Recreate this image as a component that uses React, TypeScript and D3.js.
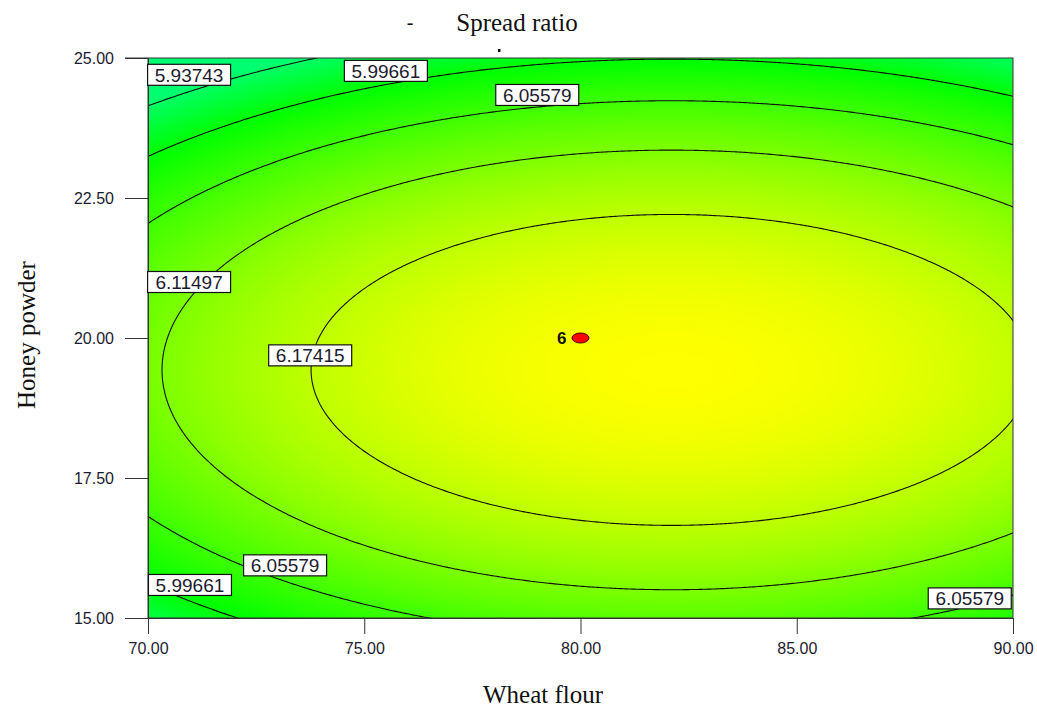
import React, { useEffect, useMemo, useRef } from 'react';
import * as d3 from 'd3';

// axes
const xTicks = [70, 75, 80, 85, 90];
const yTicks = [15, 17.5, 20, 22.5, 25];

// contour levels shown on the plot
const contourLevels = [5.93743, 5.99661, 6.05579, 6.11497, 6.17415];

// fitted response surface: peak, centre [wheat, honey], curvature [wheat, honey]
const surfacePeak = [6.2334];
const surfaceCentre = [82.1, 19.43];
const surfaceCurvature = [0.000854, 0.007687];

// contour labels: [level, wheat flour, honey powder]
const contourLabels: [number, number, number][] = [
  [5.93743, 70.95, 24.7],
  [5.99661, 75.5, 24.77],
  [6.05579, 79.0, 24.34],
  [6.11497, 70.95, 21.0],
  [6.17415, 73.75, 19.69],
  [6.05579, 73.17, 15.94],
  [5.99661, 70.97, 15.59],
  [6.05579, 89.0, 15.35],
];

// design point and its replicate count
const designPoint = [80, 20];
const designCount = ['6'];

const W = 1037;
const H = 709;
const M = { left: 148, right: 1013, top: 58, bottom: 618 };

const surface = (x: number, y: number) =>
  surfacePeak[0] -
  surfaceCurvature[0] * (x - surfaceCentre[0]) ** 2 -
  surfaceCurvature[1] * (y - surfaceCentre[1]) ** 2;

const App = () => {
  const xAxisRef = useRef<SVGGElement>(null);
  const yAxisRef = useRef<SVGGElement>(null);

  const x = d3.scaleLinear().domain([70, 90]).range([M.left, M.right]);
  const y = d3.scaleLinear().domain([15, 25]).range([M.bottom, M.top]);

  // green -> yellow shading
  const red = d3.scaleLinear().domain([6.0, 6.234]).range([0, 255]).clamp(true);
  const blue = d3.scaleLinear().domain([5.93, 6.0]).range([112, 0]).clamp(true);

  const heatmap = useMemo(() => {
    const w = M.right - M.left;
    const h = M.bottom - M.top;
    const canvas = document.createElement('canvas');
    canvas.width = w;
    canvas.height = h;
    const ctx = canvas.getContext('2d');
    if (!ctx) return '';
    const img = ctx.createImageData(w, h);
    for (let j = 0; j < h; j++) {
      const yv = y.invert(M.top + j + 0.5);
      for (let i = 0; i < w; i++) {
        const v = surface(x.invert(M.left + i + 0.5), yv);
        const k = (j * w + i) * 4;
        img.data[k] = red(v);
        img.data[k + 1] = 255;
        img.data[k + 2] = blue(v);
        img.data[k + 3] = 255;
      }
    }
    ctx.putImageData(img, 0, 0);
    return canvas.toDataURL();
  }, []);

  const contourPaths = useMemo(() => {
    // grid extends past the plot so the polygon edges fall outside the clip
    const x0 = 66, x1 = 94, y0 = 12, y1 = 28, step = 0.05;
    const nx = Math.round((x1 - x0) / step) + 1;
    const ny = Math.round((y1 - y0) / step) + 1;
    const values = new Array(nx * ny);
    for (let j = 0; j < ny; j++) {
      for (let i = 0; i < nx; i++) {
        values[j * nx + i] = surface(x0 + i * step, y1 - j * step);
      }
    }
    const contours = d3.contours().size([nx, ny]).thresholds(contourLevels)(values);
    const proj = d3.geoTransform({
      point(gx: number, gy: number) {
        this.stream.point(x(x0 + (gx - 0.5) * step), y(y1 - (gy - 0.5) * step));
      },
    });
    const path = d3.geoPath(proj);
    return contours.map(c => path(c as any) || '');
  }, []);

  useEffect(() => {
    const fmt = d3.format('.2f');
    const xa = d3.select(xAxisRef.current!);
    xa.call(d3.axisBottom(x).tickValues(xTicks).tickFormat(d => fmt(d as number)).tickSize(16).tickSizeOuter(0).tickPadding(9) as any);
    const ya = d3.select(yAxisRef.current!);
    ya.call(d3.axisLeft(y).tickValues(yTicks).tickFormat(d => fmt(d as number)).tickSize(23).tickSizeOuter(0).tickPadding(11) as any);
    [xa, ya].forEach(a => {
      a.selectAll('path.domain').attr('stroke', '#333');
      a.selectAll('.tick line').attr('stroke', '#333');
      a.selectAll('.tick text')
        .attr('fill', '#1c1c30')
        .style('font-family', '"Liberation Sans", Arial, sans-serif')
        .style('font-size', '16px');
    });
  }, []);

  const serif = '"Liberation Serif", "Times New Roman", serif';
  const sans = '"Liberation Sans", Arial, sans-serif';

  return (
    <svg width={W} height={H} style={{ position: 'absolute', left: 0, top: 0, background: '#fff' }}>
      <defs>
        <clipPath id="plotClip">
          <rect x={M.left} y={M.top} width={M.right - M.left} height={M.bottom - M.top} />
        </clipPath>
      </defs>

      <image href={heatmap} x={M.left} y={M.top} width={M.right - M.left} height={M.bottom - M.top} preserveAspectRatio="none" />

      <g clipPath="url(#plotClip)">
        {contourPaths.map((d, i) => (
          <path key={i} d={d} fill="none" stroke="#111" strokeWidth={1.1} />
        ))}
      </g>

      <rect x={M.left} y={M.top} width={M.right - M.left} height={M.bottom - M.top} fill="none" stroke="#333" strokeWidth={1} />

      <g ref={xAxisRef} transform={`translate(0,${M.bottom})`} />
      <g ref={yAxisRef} transform={`translate(${M.left},0)`} />
      <line x1={M.left - 23} x2={M.left} y1={M.top} y2={M.top} stroke="#333" />

      {contourLabels.map(([lvl, lx, ly], i) => (
        <g key={i} transform={`translate(${x(lx)},${y(ly)})`}>
          <rect x={-41.5} y={-10.5} width={83} height={21} fill="#fff" stroke="#111" strokeWidth={1.2} />
          <text textAnchor="middle" dy="0.36em" fontFamily={sans} fontSize={19} fill="#1c1c30">
            {lvl.toFixed(5)}
          </text>
        </g>
      ))}

      <ellipse cx={x(designPoint[0])} cy={y(designPoint[1])} rx={8.5} ry={5} fill="#ff0000" stroke="#400" strokeWidth={1} />
      <text x={x(designPoint[0]) - 14} y={y(designPoint[1])} dy="0.36em" textAnchor="end" fontFamily={sans} fontWeight="bold" fontSize={17} fill="#111">
        {designCount[0]}
      </text>

      <text x={517} y={31} textAnchor="middle" fontFamily={serif} fontSize={25} fill="#111">Spread ratio</text>
      <text x={410} y={29} textAnchor="middle" fontFamily={serif} fontSize={20} fill="#111">-</text>
      <rect x={498} y={49} width={2.5} height={3} fill="#111" />

      <text x={543} y={703} textAnchor="middle" fontFamily={serif} fontSize={25} fill="#111">Wheat flour</text>
      <text transform={`translate(35,335) rotate(-90)`} textAnchor="middle" fontFamily={serif} fontSize={25} fill="#111">Honey powder</text>
    </svg>
  );
};

export default App;
